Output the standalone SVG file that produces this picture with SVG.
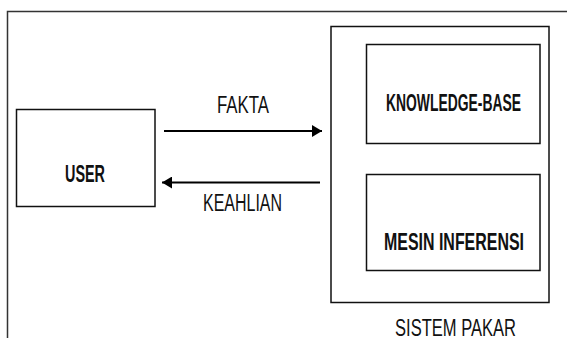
<svg xmlns="http://www.w3.org/2000/svg" width="567" height="338" viewBox="0 0 567 338">
<style>
.box{fill:none;stroke:#111;stroke-width:1.5}
.frame{fill:none;stroke:#333;stroke-width:1.5}
.lbl{font-family:"Liberation Sans",Arial,sans-serif;font-size:23px;fill:#111}
.b{font-weight:bold}
.conn{stroke:#000;stroke-width:2;fill:none}
</style>
<defs>
<marker id="ah" markerWidth="10" markerHeight="12" refX="10" refY="6" orient="auto" markerUnits="userSpaceOnUse">
<path d="M0,0 L10,6 L0,12 Z" fill="#000"/>
</marker>
</defs>
<rect width="567" height="338" fill="#fff"/>
<path class="frame" d="M7.5,338 V11.5 H567"/>
<g id="user">
<rect class="box" x="16.5" y="109.5" width="138.5" height="97"/>
<text class="lbl b" x="65" y="181.5" textLength="40" lengthAdjust="spacingAndGlyphs">USER</text>
</g>
<g id="sistem-pakar">
<rect class="box" x="331" y="26.5" width="218" height="276"/>
<text class="lbl" x="395" y="336" textLength="121" lengthAdjust="spacingAndGlyphs">SISTEM PAKAR</text>
</g>
<g id="knowledge-base">
<rect class="box" x="366.5" y="44.5" width="173.5" height="99"/>
<text class="lbl b" x="386" y="111" textLength="135" lengthAdjust="spacingAndGlyphs">KNOWLEDGE-BASE</text>
</g>
<g id="mesin-inferensi">
<rect class="box" x="366.5" y="174.5" width="173.5" height="96"/>
<text class="lbl b" x="384" y="249.5" textLength="140" lengthAdjust="spacingAndGlyphs">MESIN INFERENSI</text>
</g>
<g id="connectors">
<line class="conn" x1="164" y1="131" x2="322" y2="131" marker-end="url(#ah)"/>
<text class="lbl" x="217" y="112.5" textLength="52" lengthAdjust="spacingAndGlyphs">FAKTA</text>
<line class="conn" x1="320" y1="182.5" x2="162" y2="182.5" marker-end="url(#ah)"/>
<text class="lbl" x="203" y="210.5" textLength="79" lengthAdjust="spacingAndGlyphs">KEAHLIAN</text>
</g>
</svg>
